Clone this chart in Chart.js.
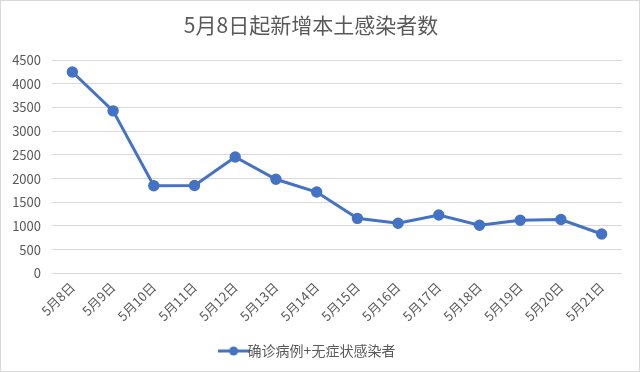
<!DOCTYPE html>
<html>
<head>
<meta charset="utf-8">
<script src="https://cdn.jsdelivr.net/npm/chart.js@4"></script>
<style>
html,body{margin:0;padding:0;background:#fff;}
#wrap{position:absolute;left:0;top:0;width:640px;height:372px;}
</style>
</head>
<body>
<div id="wrap"><canvas id="c" width="640" height="372"></canvas></div>
<script>
const titleText = '5月8日起新增本土感染者数';
const seriesName = '确诊病例+无症状感染者';
const categories = ['5月8日','5月9日','5月10日','5月11日','5月12日','5月13日','5月14日','5月15日','5月16日','5月17日','5月18日','5月19日','5月20日','5月21日'];
const values = [4250, 3430, 1850, 1855, 2455, 1985, 1715, 1160, 1055, 1230, 1015, 1120, 1135, 830];
const yTicks = [0, 500, 1000, 1500, 2000, 2500, 3000, 3500, 4000, 4500];

const BLUE = '#4472C4';
const TXT = '#595959';
const GRID = '#D9D9D9';
const FONT = "'Noto Sans CJK SC', 'Noto Sans', sans-serif";

// legend marker: line with circle
const mk = document.createElement('canvas');
mk.width = 32; mk.height = 10;
(function(){
  const g = mk.getContext('2d');
  g.strokeStyle = BLUE; g.lineWidth = 3;
  g.beginPath(); g.moveTo(0,5); g.lineTo(32,5); g.stroke();
  g.fillStyle = BLUE;
  g.beginPath(); g.arc(16,5,4.5,0,Math.PI*2); g.fill();
})();

const borderPlugin = {
  id: 'outerBorder',
  afterDraw(chart){
    const ctx = chart.ctx;
    ctx.save();
    ctx.strokeStyle = GRID; ctx.lineWidth = 1;
    ctx.strokeRect(0.5, 0.5, chart.width - 1, chart.height - 1);
    ctx.restore();
  }
};

new Chart(document.getElementById('c'), {
  type: 'line',
  data: {
    labels: categories,
    datasets: [{
      label: seriesName,
      data: values,
      borderColor: BLUE,
      backgroundColor: BLUE,
      borderWidth: 3,
      pointRadius: 4.2,
      pointHoverRadius: 4.2,
      pointBackgroundColor: BLUE,
      pointBorderColor: BLUE,
      tension: 0
    }]
  },
  options: {
    responsive: false,
    animation: false,
    devicePixelRatio: 1,
    layout: { padding: { left: 0, right: 18, top: 0, bottom: 4 } },
    plugins: {
      title: {
        display: true,
        text: titleText,
        color: TXT,
        font: { family: FONT, size: 21, weight: 'normal' },
        padding: { top: 12, bottom: 23 }
      },
      legend: {
        position: 'bottom',
        labels: {
          color: TXT,
          font: { family: FONT, size: 14 },
          usePointStyle: true,
          padding: 10,
          generateLabels(chart){
            return [{
              text: seriesName,
              pointStyle: mk,
              fontColor: TXT,
              datasetIndex: 0,
              lineWidth: 0,
              hidden: false
            }];
          }
        }
      },
      tooltip: { enabled: false }
    },
    scales: {
      x: {
        offset: true,
        afterFit(scale){ scale.height += 4; },
        grid: { display: false, drawTicks: false },
        border: { display: false },
        ticks: {
          color: TXT,
          font: { family: FONT, size: 13 },
          minRotation: 45,
          maxRotation: 45,
          padding: 6,
          autoSkip: false
        }
      },
      y: {
        min: 0,
        max: 4500,
        afterBuildTicks(scale){ scale.ticks = yTicks.map(v => ({ value: v })); },
        afterFit(scale){ scale.width = 52; },
        grid: { color: GRID, lineWidth: 1, drawTicks: false },
        border: { display: false },
        ticks: {
          color: TXT,
          font: { family: FONT, size: 13 },
          padding: 11,
          callback: (v) => String(v)
        }
      }
    }
  },
  plugins: [borderPlugin]
});
</script>
</body>
</html>
